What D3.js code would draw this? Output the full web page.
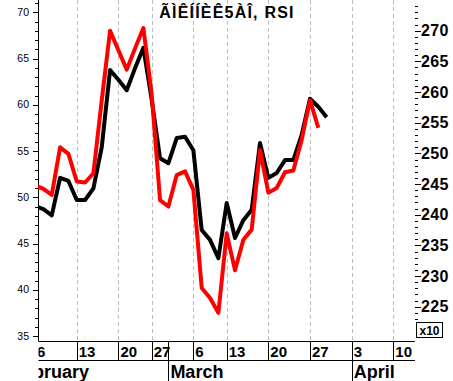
<!DOCTYPE html>
<html>
<head>
<script src="https://cdn.jsdelivr.net/npm/d3@7"></script>
<style>
  body { margin: 0; background: #fff; }
  svg text { font-family: "Liberation Sans", Arial, sans-serif; }
</style>
</head>
<body>
<div id="chart"></div>
<script>
// trading days (MOEX calendar, holidays skipped)
var days = ["02-01","02-02","02-03","02-06","02-07","02-08","02-09","02-10",
  "02-13","02-14","02-15","02-16","02-17","02-20","02-21","02-22","02-24",
  "02-27","02-28","03-01","03-02","03-03","03-06","03-07","03-09","03-10",
  "03-13","03-14","03-15","03-16","03-17","03-20","03-21","03-22","03-23","03-24",
  "03-27","03-28","03-29","03-30","03-31","04-03","04-04","04-05","04-06","04-07",
  "04-10","04-11","04-12"];
var seriesStart = "02-06";

// price, x10 (right axis)
var price = [241.4, 240.9, 239.9, 246.0, 245.5, 242.4, 242.4, 244.3, 251.0, 263.6,
  262.0, 260.3, 263.9, 267.2, 258.7, 249.2, 248.4, 252.5, 252.7, 250.5,
  237.5, 235.9, 232.9, 241.9, 236.2, 239.1, 240.8, 251.7, 246.0, 246.8,
  248.9, 248.9, 253.0, 258.9, 257.6, 255.9];
// RSI (left axis)
var rsi = [51.3, 50.9, 50.25, 55.4, 54.7, 51.7, 51.6, 52.6, 60.5, 68.0,
  65.9, 63.8, 66.1, 68.3, 61.1, 49.7, 49.0, 52.4, 52.8, 50.8,
  40.2, 39.1, 37.5, 46.1, 42.1, 45.4, 46.5, 55.1, 50.5, 51.0,
  52.7, 52.9, 56.2, 60.5, 57.5];

var weekDays = ["02-06","02-13","02-20","02-27","03-06","03-13","03-20","03-27","04-03","04-10"];
var weekLabels = ["6","13","20","27","6","13","20","27","3","10"];
var monthDays = ["02-01","03-01","04-03"];
var monthLabels = ["February","March","April"];
var title = "ÃÌÊÍÍÈÊ5ÀÎ, RSI";

var W = 453, H = 381;
var left = 38, right = 415, bottom = 341;

var svg = d3.select("#chart").append("svg")
    .attr("width", W).attr("height", H);

var idx = function(d) { return days.indexOf(d); };
var x = d3.scaleLinear().domain([3, 46]).range([35.1, 393.3]);
var yL = d3.scaleLinear().domain([35, 70]).range([336, 12.3]);
var yR = d3.scaleLinear().domain([225, 270]).range([306.7, 30.7]);

var defs = svg.append("defs");
defs.append("clipPath").attr("id", "plot")
  .append("rect").attr("x", left).attr("y", 0).attr("width", right - left).attr("height", bottom);
defs.append("clipPath").attr("id", "band")
  .append("rect").attr("x", left + 0.5).attr("y", bottom).attr("width", W - left).attr("height", H - bottom);

// dashed grid at week starts
svg.append("g").attr("clip-path", "url(#plot)")
  .selectAll("line").data(weekDays).enter().append("line")
    .attr("x1", function(d) { return Math.round(x(idx(d))) + 0.5; })
    .attr("x2", function(d) { return Math.round(x(idx(d))) + 0.5; })
    .attr("y1", 0).attr("y2", bottom)
    .style("stroke", "#bdbdbd").style("stroke-dasharray", "4,3");

// left axis (RSI)
var la = svg.append("g");
la.append("line").attr("x1", left + 0.5).attr("x2", left + 0.5).attr("y1", 0).attr("y2", bottom)
  .style("stroke", "#000");
var lTicks = d3.range(35, 72);
la.selectAll("line.t").data(lTicks).enter().append("line").attr("class", "t")
  .attr("x1", function(d) { return d % 5 == 0 ? left - 5 : left - 3; })
  .attr("x2", left)
  .attr("y1", function(d) { return Math.round(yL(d)) + 0.5; })
  .attr("y2", function(d) { return Math.round(yL(d)) + 0.5; })
  .style("stroke", "#000");
la.selectAll("text").data(lTicks.filter(function(d) { return d % 5 == 0; })).enter().append("text")
  .attr("x", 29).attr("y", function(d) { return yL(d); })
  .attr("dy", "0.35em").attr("text-anchor", "end")
  .style("font-size", "10.5px").text(function(d) { return d; });

// right axis (price x10)
var ra = svg.append("g");
var rTicks = d3.range(223, 275);
ra.selectAll("line").data(rTicks).enter().append("line")
  .attr("x1", right).attr("x2", function(d) { return d % 5 == 0 ? right + 6 : right + 3; })
  .attr("y1", function(d) { return Math.round(yR(d)) + 0.5; })
  .attr("y2", function(d) { return Math.round(yR(d)) + 0.5; })
  .style("stroke", "#000");
ra.selectAll("text").data(rTicks.filter(function(d) { return d % 5 == 0; })).enter().append("text")
  .attr("x", right + 6).attr("y", function(d) { return yR(d); })
  .attr("dy", "0.36em")
  .style("font-size", "16px").style("font-weight", "bold").style("letter-spacing", "0.4px")
  .text(function(d) { return d; });
ra.append("rect").attr("x", 416.5).attr("y", 322.5).attr("width", 26).attr("height", 15)
  .style("fill", "none").style("stroke", "#000");
ra.append("text").attr("x", 429.5).attr("y", 334.5).attr("text-anchor", "middle")
  .style("font-size", "12px").style("font-weight", "bold").text("x10");

// lines
var s0 = idx(seriesStart);
var lineR = d3.line().x(function(d, i) { return x(s0 + i); }).y(function(d) { return yR(d); });
var lineL = d3.line().x(function(d, i) { return x(s0 + i); }).y(function(d) { return yL(d); });
var plot = svg.append("g").attr("clip-path", "url(#plot)");
plot.append("path").attr("d", lineR(price))
  .style("fill", "none").style("stroke", "#000").style("stroke-width", 4)
  .style("stroke-linejoin", "round");
plot.append("path").attr("d", lineL(rsi))
  .style("fill", "none").style("stroke", "#ff0000").style("stroke-width", 4)
  .style("stroke-linejoin", "round");

// date band
var band = svg.append("g").attr("clip-path", "url(#band)");
band.append("line").attr("x1", left).attr("x2", right).attr("y1", bottom + 0.5).attr("y2", bottom + 0.5)
  .style("stroke", "#000");
band.append("line").attr("x1", left).attr("x2", right).attr("y1", 360.5).attr("y2", 360.5)
  .style("stroke", "#000");
band.selectAll("line.w").data(weekDays).enter().append("line").attr("class", "w")
  .attr("x1", function(d) { return Math.round(x(idx(d))) + 0.5; })
  .attr("x2", function(d) { return Math.round(x(idx(d))) + 0.5; })
  .attr("y1", bottom).attr("y2", 360)
  .style("stroke", "#000");
band.selectAll("text.w").data(weekDays).enter().append("text").attr("class", "w")
  .attr("x", function(d) { return x(idx(d)) + 2; }).attr("y", 357)
  .style("font-size", "15px").style("font-weight", "bold")
  .text(function(d, i) { return weekLabels[i]; });
band.selectAll("line.m").data(monthDays).enter().append("line").attr("class", "m")
  .attr("x1", function(d) { return Math.round(x(idx(d))) + 0.5; })
  .attr("x2", function(d) { return Math.round(x(idx(d))) + 0.5; })
  .attr("y1", bottom).attr("y2", H)
  .style("stroke", "#000");
band.selectAll("text.m").data(monthDays).enter().append("text").attr("class", "m")
  .attr("x", function(d) { return x(idx(d)) + 2; }).attr("y", 378)
  .style("font-size", "18px").style("font-weight", "bold")
  .text(function(d, i) { return monthLabels[i]; });

// title
svg.append("text").attr("x", 227).attr("y", 18).attr("text-anchor", "middle")
  .style("font-size", "16px").style("font-weight", "bold").style("letter-spacing", "1.2px")
  .text(title);
</script>
</body>
</html>
